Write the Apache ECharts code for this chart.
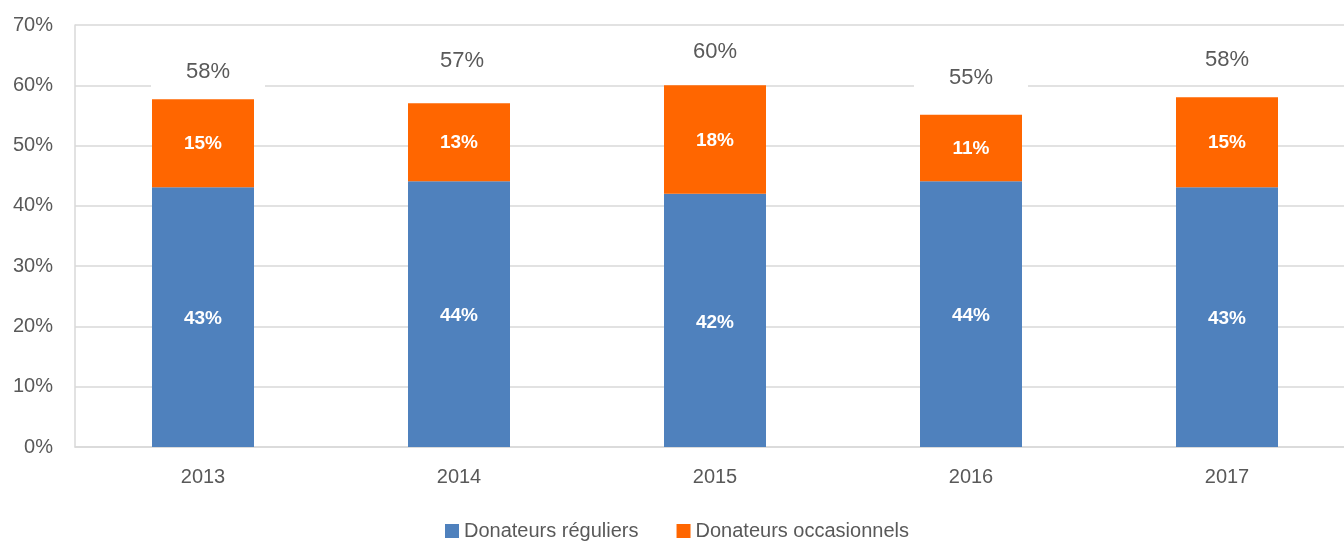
<!DOCTYPE html>
<html>
<head>
<meta charset="utf-8">
<script src="https://cdn.jsdelivr.net/npm/echarts@6/dist/echarts.min.js"></script>
<style>html,body{margin:0;padding:0;background:#fff;overflow:hidden;width:1344px;height:542px;}#c{width:1355px;height:542px;}</style>
</head>
<body>
<div id="c"></div>
<script>
const categories = ['2013', '2014', '2015', '2016', '2017'];
const reguliers = [43.1, 44.1, 42.0, 44.1, 43.1];
const occasionnels = [14.6, 12.9, 18.0, 11.0, 14.9];
const totals = [57.7, 57.0, 60.0, 55.1, 58.0];
const yTicks = [0, 10, 20, 30, 40, 50, 60, 70];

const totalLabelOffsets = [[5, -27], [3, -42], [0, -33], [0, -37], [0, -37]];
const FONT = 'Liberation Sans';
const TEXT = '#595959';

const chart = echarts.init(document.getElementById('c'));
chart.setOption({
  animation: false,
  textStyle: { fontFamily: FONT },
  grid: { left: 75, right: 0, top: 25, bottom: 95, containLabel: false },
  legend: {
    bottom: -4, left: 440,
    itemWidth: 14, itemHeight: 14, itemGap: 38,
    icon: 'rect',
    textStyle: { color: TEXT, fontSize: 20, fontFamily: FONT },
    data: ['Donateurs réguliers', 'Donateurs occasionnels']
  },
  xAxis: {
    type: 'category', data: categories,
    axisLine: { lineStyle: { color: '#D9D9D9', width: 1.5 } },
    axisTick: { show: false },
    axisLabel: { color: TEXT, fontSize: 20, margin: 20, fontFamily: FONT }
  },
  yAxis: {
    type: 'value', min: yTicks[0], max: yTicks[yTicks.length - 1], interval: 10,
    axisLine: { show: true, lineStyle: { color: '#D9D9D9', width: 1.5 } },
    axisTick: { show: false },
    splitLine: { lineStyle: { color: '#D9D9D9', width: 1.5 } },
    axisLabel: { color: TEXT, fontSize: 20, margin: 22, fontFamily: FONT, formatter: v => v + '%' }
  },
  series: [
    {
      name: 'Donateurs réguliers', type: 'bar', stack: 'tot', barWidth: 102,
      itemStyle: { color: '#4F81BD' },
      data: reguliers,
      label: { show: true, position: 'inside', offset: [0, 2], color: '#fff', fontWeight: 'bold', fontSize: 19, fontFamily: FONT,
        formatter: p => Math.round(p.value) + '%' }
    },
    {
      name: 'Donateurs occasionnels', type: 'bar', stack: 'tot', barWidth: 102,
      itemStyle: { color: '#FF6600' },
      data: occasionnels,
      label: { show: true, position: 'inside', offset: [0, 1], color: '#fff', fontWeight: 'bold', fontSize: 19, fontFamily: FONT,
        formatter: p => Math.round(p.value) + '%' }
    },
    {
      name: 'Total', type: 'scatter', symbolSize: 0, silent: true, z: 5,
      itemStyle: { opacity: 1, color: '#fff' },
      data: totals.map((v, i) => ({
        value: v,
        label: { offset: totalLabelOffsets[i] }
      })),
      label: {
        show: true, position: 'inside', color: '#595959', opacity: 1, fontSize: 22, fontFamily: FONT,
        backgroundColor: '#fff', padding: [8, 35],
        formatter: p => Math.round(p.value) + '%'
      }
    }
  ]
});
</script>
</body>
</html>
